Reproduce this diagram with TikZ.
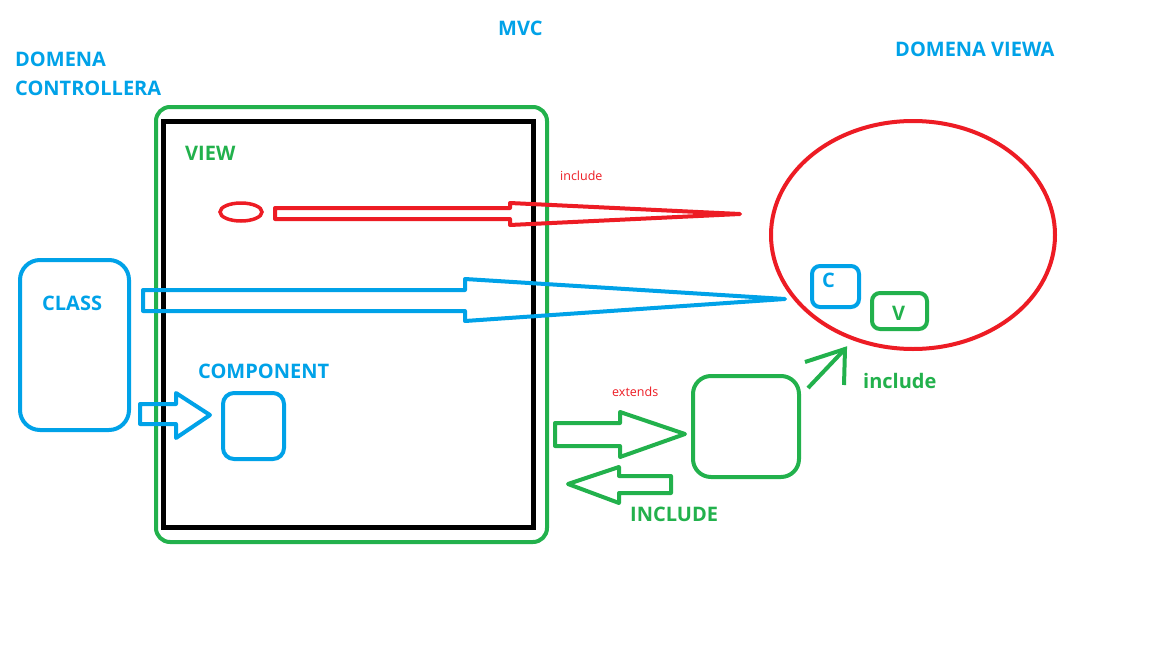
\documentclass[tikz,border=0pt]{standalone}
\usepackage{fontspec}
\setmainfont{Open Sans}
\usetikzlibrary{shapes.geometric}
\definecolor{pblue}{RGB}{0,162,232}
\definecolor{pgreen}{RGB}{34,177,76}
\definecolor{pred}{RGB}{237,28,36}
\begin{document}
\begin{tikzpicture}[x=1pt,y=-1pt,
  lbl/.style={anchor=base west,inner sep=0pt,font=\bfseries\fontsize{20}{24}\selectfont},
  small/.style={anchor=base west,inner sep=0pt,text=pred,font=\fontsize{12.5}{15}\selectfont},
  rbox/.style={draw,line width=4pt,rounded corners=#1,inner sep=0pt},
  blockarrow/.style={draw,line width=4pt,line join=round},
]
\useasboundingbox (0,0) rectangle (1152,648);
\fill[white] (0,0) rectangle (1152,648);

% headings
\node[lbl,text=pblue] (mvc) at (498,35) {MVC};
\node[lbl,text=pblue] (domc1) at (15,66) {DOMENA};
\node[lbl,text=pblue] (domc2) at (15,95) {CONTROLLERA};
\node[lbl,text=pblue] (domv) at (895,56) {DOMENA VIEWA};

% MVC frame
\node[rbox=14pt,pgreen,minimum width=391pt,minimum height=435pt] (frame) at (351.5,324.5) {};
\node[draw,black,line width=5pt,inner sep=0pt,minimum width=370pt,minimum height=406pt] (inner) at (348,324) {};
\node[lbl,text=pgreen] (view) at (185,160) {VIEW};

% view marker and include arrow
\node[ellipse,draw=pred,line width=3.5pt,minimum width=42pt,minimum height=18pt,inner sep=0pt] (viewel) at (241,212) {};
\draw[blockarrow,pred] (275,208) -- (510,208) -- (510,203) -- (740,214) -- (510,225) -- (510,219) -- (275,219) -- cycle;
\node[small] (inc1) at (560,180) {include};

% view domain
\node[ellipse,draw=pred,line width=4pt,minimum width=284pt,minimum height=228pt,inner sep=0pt] (vdom) at (913,235) {};
\node[rbox=8pt,pblue,minimum width=47pt,minimum height=41pt] (cbox) at (835.5,286.5) {};
\node[lbl,text=pblue] (ctext) at (822,287) {C};
\node[rbox=8pt,pgreen,minimum width=55pt,minimum height=36pt] (vbox) at (899.5,311) {};
\node[lbl,text=pgreen] (vtext) at (892,320) {V};

% class and big blue arrow
\node[rbox=20pt,pblue,minimum width=109pt,minimum height=170pt] (classbox) at (74.5,345) {};
\node[lbl,text=pblue] (classtext) at (42,310) {CLASS};
\draw[blockarrow,pblue] (143,290) -- (465,290) -- (465,279) -- (785,299) -- (465,321) -- (465,311) -- (143,311) -- cycle;

% component
\node[lbl,text=pblue] (comptext) at (198,378) {COMPONENT};
\node[rbox=11pt,pblue,minimum width=61pt,minimum height=66pt] (compbox) at (253.5,426) {};
\draw[blockarrow,pblue] (140,404) -- (176,404) -- (176,393) -- (210,415) -- (176,438) -- (176,424) -- (140,424) -- cycle;

% extension box and its arrows
\node[rbox=18pt,pgreen,minimum width=106pt,minimum height=101pt] (extbox) at (746,426.5) {};
\node[small] (extends) at (612,396) {extends};
\draw[blockarrow,pgreen] (555,423) -- (620,423) -- (620,412) -- (685,434) -- (620,457) -- (620,446) -- (555,446) -- cycle;
\draw[blockarrow,pgreen] (568,484) -- (619,467) -- (619,476) -- (671,476) -- (671,493) -- (619,493) -- (619,503) -- cycle;
\node[lbl,text=pgreen] (inc3) at (630,521) {INCLUDE};

\coordinate (tip) at (845,349);
\draw[pgreen,line width=4pt] (808,388) -- (tip);
\draw[pgreen,line width=4pt,line join=miter] (805,362) -- (tip) -- (844,385);
\node[lbl,text=pgreen] (inc2) at (863,388) {include};
\end{tikzpicture}
\end{document}
